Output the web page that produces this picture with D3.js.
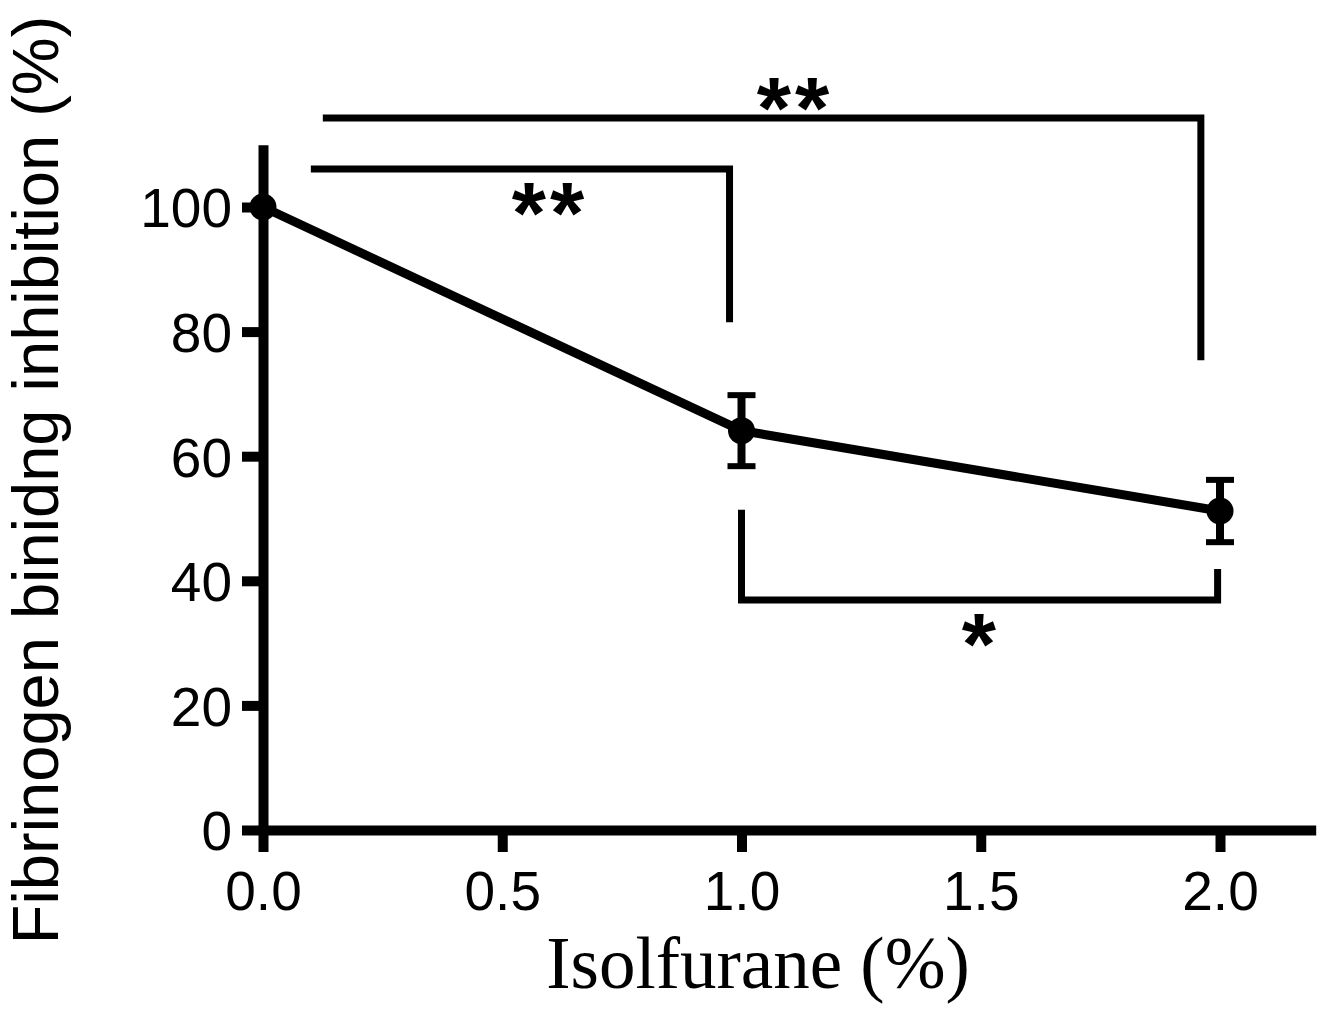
<!DOCTYPE html>
<html lang="en">
<head>
    <meta charset="UTF-8">
    <title>Fibrinogen binding</title>
    <script src="https://cdn.jsdelivr.net/npm/d3@7/dist/d3.min.js"></script>
    <style>
        body { margin: 0; background: #fff; }
    </style>
</head>
<body>
<script>
	// data
	var doses = [0, 1.0, 2.0];
	var inhibition = [100, 64.1, 51.2];
	var sem = [0, 5.7, 5.0];
	var xTicks = [0, 0.5, 1.0, 1.5, 2.0];
	var yTicks = [0, 20, 40, 60, 80, 100];
	// significance brackets: [x1, x2, yLine, yLeftEnd, yRightEnd]
	var brackets = [
		[0.125, 1.96, 114.3, 114.3, 75.4],
		[0.10, 0.975, 106.1, 106.1, 81.5],
		[1.0, 1.995, 36.9, 51.4, 41.9]
	];
	// star labels: [x, y, text]
	var stars = [[1.112, 111.1, "**"], [0.60, 94.3, "**"], [1.50, 25.0, "*"]];

	var width = 1325, height = 1009;
	var svg = d3.select("body").append("svg").attr("width", width).attr("height", height);

	var x = d3.scaleLinear().domain([0, 2.2]).range([263, 263 + 2.2 * 478.5]);
	var y = d3.scaleLinear().domain([0, 110]).range([830, 830 - 110 * 6.23]);

	// axes
	var xAxis = d3.axisBottom(x).tickValues(xTicks).tickFormat(d3.format(".1f")).tickSizeInner(22).tickSizeOuter(0);
	var yAxis = d3.axisLeft(y).tickValues(yTicks).tickSizeInner(21).tickSizeOuter(0).tickPadding(10);

	var gx = svg.append("g").attr("transform", "translate(0," + y(0) + ")").call(xAxis);
	var gy = svg.append("g").attr("transform", "translate(" + x(0) + ",0)").call(yAxis);

	[gx, gy].forEach(function (g) {
		g.select(".domain").attr("stroke", "#000").attr("stroke-width", 10).attr("stroke-linecap", "butt");
		g.selectAll(".tick line").attr("stroke", "#000").attr("stroke-width", 10);
		g.selectAll(".tick text").attr("fill", "#000")
			.style("font-family", "'Liberation Sans', Arial, sans-serif")
			.style("font-size", "55px");
	});
	gx.selectAll(".tick text").attr("y", 80).attr("dy", 0);
	gy.selectAll(".tick text").attr("dy", "0.36em");

	// line
	var pts = doses.map(function (d, i) { return {x: d, y: inhibition[i], e: sem[i]}; });
	var line = d3.line().x(function (d) { return x(d.x); }).y(function (d) { return y(d.y); });
	svg.append("path").datum(pts).attr("d", line)
		.attr("fill", "none").attr("stroke", "#000").attr("stroke-width", 9);

	// error bars
	var eb = svg.append("g").selectAll("g").data(pts.filter(function (d) { return d.e > 0; })).enter().append("g");
	eb.append("line")
		.attr("x1", function (d) { return x(d.x); }).attr("x2", function (d) { return x(d.x); })
		.attr("y1", function (d) { return y(d.y + d.e); }).attr("y2", function (d) { return y(d.y - d.e); })
		.attr("stroke", "#000").attr("stroke-width", 8);
	[1, -1].forEach(function (s) {
		eb.append("line")
			.attr("x1", function (d) { return x(d.x) - 14; }).attr("x2", function (d) { return x(d.x) + 14; })
			.attr("y1", function (d) { return y(d.y + s * d.e); }).attr("y2", function (d) { return y(d.y + s * d.e); })
			.attr("stroke", "#000").attr("stroke-width", 6);
	});

	// points
	svg.append("g").selectAll("circle").data(pts).enter().append("circle")
		.attr("cx", function (d) { return x(d.x); })
		.attr("cy", function (d) { return y(d.y); })
		.attr("r", 13.5).attr("fill", "#000");

	// brackets
	var bg = svg.append("g");
	brackets.forEach(function (b) {
		var path = d3.path();
		path.moveTo(x(b[0]), y(b[3]));
		path.lineTo(x(b[0]), y(b[2]));
		path.lineTo(x(b[1]), y(b[2]));
		path.lineTo(x(b[1]), y(b[4]));
		bg.append("path").attr("d", path.toString())
			.attr("fill", "none").attr("stroke", "#000").attr("stroke-width", 7);
	});
	bg.selectAll("text").data(stars).enter().append("text")
		.attr("x", function (d) { return x(d[0]); })
		.attr("y", function (d) { return y(d[1]); })
		.attr("text-anchor", "middle")
		.style("font-family", "'Liberation Sans', Arial, sans-serif")
		.style("font-weight", "bold")
		.style("letter-spacing", "4px")
		.style("font-size", "88px")
		.text(function (d) { return d[2]; });

	// axis titles
	svg.append("text")
		.attr("transform", "translate(58,480) rotate(-90)")
		.attr("text-anchor", "middle")
		.style("font-family", "'Liberation Sans', Arial, sans-serif")
		.style("font-size", "65px")
		.text("Fibrinogen binidng inhibition (%)");

	svg.append("text")
		.attr("x", 758).attr("y", 988)
		.attr("text-anchor", "middle")
		.style("font-family", "'Liberation Serif', 'Times New Roman', serif")
		.style("font-size", "73px")
		.text("Isolfurane (%)");
</script>
</body>
</html>
